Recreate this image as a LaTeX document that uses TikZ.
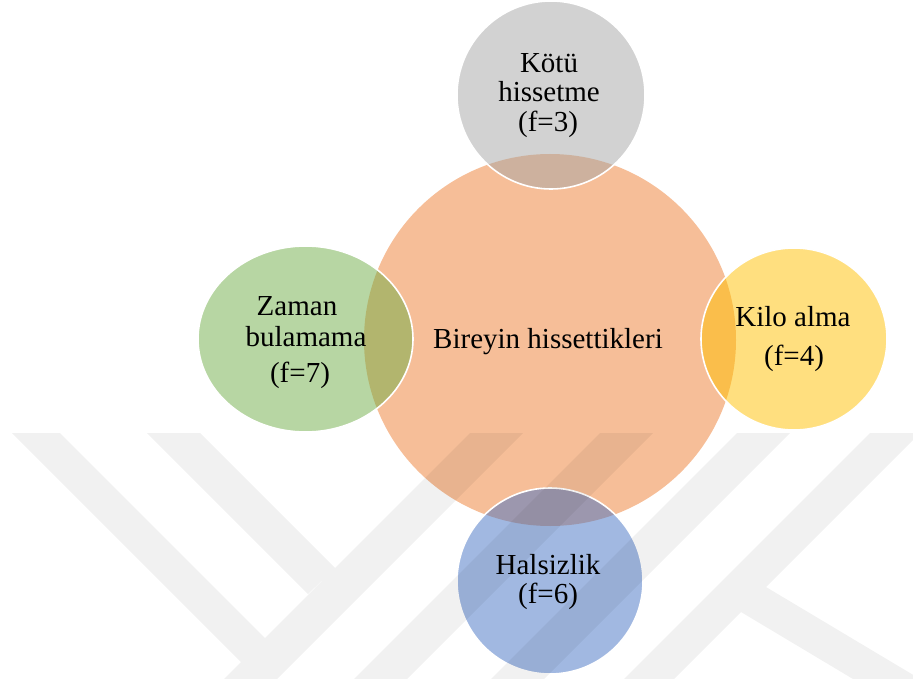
\documentclass[tikz,border=0pt]{standalone}
\usepackage{fontspec}
\setmainfont{Liberation Serif}
\definecolor{cOrange}{HTML}{ED7D31}
\definecolor{cGray}{HTML}{A5A5A5}
\definecolor{cGreen}{HTML}{70AD47}
\definecolor{cGold}{HTML}{FFC000}
\definecolor{cBlue}{HTML}{4472C4}
\begin{document}
\begin{tikzpicture}[x=1pt,y=-1pt,
  lbl/.style={anchor=base, inner sep=0pt, font=\fontsize{29}{30}\selectfont, text=black},
  sat/.style={fill opacity=0.5, draw=white, line width=1.6pt, draw opacity=1},
  wmark/.style={fill=black, fill opacity=0.055}]
\useasboundingbox (0,0) rectangle (913,679);
% central circle
\fill[cOrange, fill opacity=0.5] (550,340) circle [radius=186pt];
% satellites
\path[sat, fill=cGray]  (551,95)  ellipse [x radius=94pt, y radius=94pt];
\path[sat, fill=cGreen] (305.5,339) ellipse [x radius=107.5pt, y radius=93pt];
\path[sat, fill=cGold]  (794,339) ellipse [x radius=93pt, y radius=91pt];
\path[sat, fill=cBlue]  (550,581) ellipse [x radius=93pt, y radius=93pt];
% watermark
\begin{scope}
\clip (0,0) rectangle (913,679);
\fill[wmark]
  (470,433) -- (523,433) -- (277,679) -- (224,679) -- cycle
  (12,433) -- (60,433) -- (265,638) -- (241,662) -- cycle
  (147,433) -- (200,433) -- (335,568) -- (308,594) -- cycle
  (600,433) -- (653,433) -- (407,679) -- (354,679) -- cycle
  (737,433) -- (790,433) -- (544,679) -- (491,679) -- cycle
  (870,433) -- (920,433) -- (674,679) -- (624,679) -- cycle
  (741,612) -- (766,587) -- (920,679) -- (853,679) -- cycle;
\end{scope}
% texts
\node[lbl] (t1) at (549,73) {Kötü};
\node[lbl] (t2) at (549,102) {hissetme};
\node[lbl] (t3) at (548,132) {(f=3)};
\node[lbl] (l1) at (297,315) {Zaman};
\node[lbl] (l2) at (306,346) {bulamama};
\node[lbl] (l3) at (300,382) {(f=7)};
\node[lbl] (r1) at (793,326) {Kilo alma};
\node[lbl] (r2) at (794,365) {(f=4)};
\node[lbl] (b1) at (548,574) {Halsizlik};
\node[lbl] (b2) at (548,603) {(f=6)};
\node[lbl] (c1) at (548,348) {Bireyin hissettikleri};
\end{tikzpicture}
\end{document}
